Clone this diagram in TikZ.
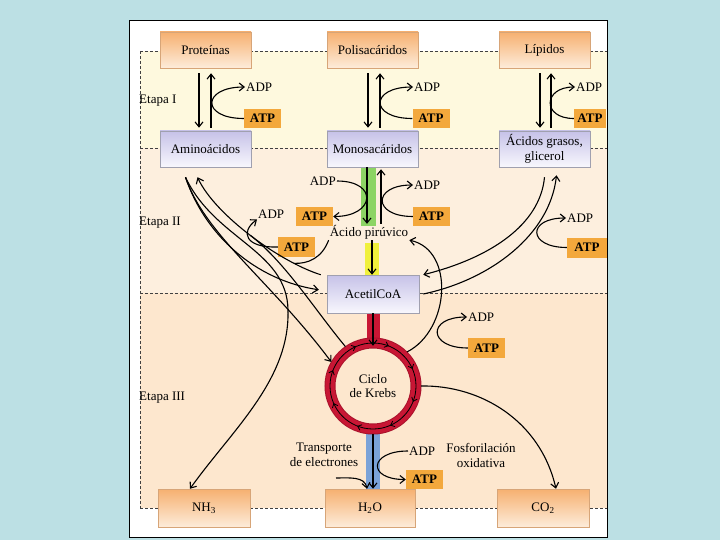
\documentclass[tikz,border=0pt]{standalone}
\usepackage{fontspec}
\setmainfont{Liberation Serif}
\usetikzlibrary{arrows.meta,decorations.markings}
\definecolor{bgblue}{RGB}{188,224,228}
\definecolor{bandA}{RGB}{254,249,222}
\definecolor{bandB}{RGB}{253,239,222}
\definecolor{bandC}{RGB}{253,231,206}
\definecolor{otop}{RGB}{246,176,112}
\definecolor{obot}{RGB}{253,236,218}
\definecolor{oline}{RGB}{215,165,120}
\definecolor{ltop}{RGB}{198,194,232}
\definecolor{lbot}{RGB}{248,247,253}
\definecolor{lline}{RGB}{160,160,175}
\definecolor{atpfill}{RGB}{243,168,60}
\definecolor{greenbar}{RGB}{140,212,100}
\definecolor{yellowbar}{RGB}{240,240,60}
\definecolor{krebsred}{RGB}{200,22,52}
\definecolor{bluebar}{RGB}{122,162,216}
\tikzset{
  obox/.style={draw=oline, line width=0.5pt, top color=otop, bottom color=obot, minimum width=91pt, minimum height=36pt, inner sep=1pt, align=center},
  lbox/.style={draw=lline, line width=0.5pt, top color=ltop, bottom color=lbot, minimum width=91pt, minimum height=36pt, inner sep=1pt, align=center},
  atpbox/.style={fill=atpfill, minimum width=37pt, minimum height=19pt, inner sep=0pt, font=\fontsize{13}{14}\selectfont\bfseries},
  lbl/.style={inner sep=1pt},
  arr/.style={line width=1.1pt, -{Straight Barb[length=5pt,width=8pt]}},
  ln/.style={line width=1.1pt},
  sepline/.style={dash pattern=on 3pt off 2pt, line width=0.6pt, draw=black!75},
}
\begin{document}
\begin{tikzpicture}[x=1pt,y=-1pt,font=\fontsize{13}{14}\selectfont]
\useasboundingbox (0,0) rectangle (720,540);
\fill[bgblue] (0,0) rectangle (720,540);
\draw[fill=white, line width=1pt] (129,21) rectangle (607,537);
% bands
\fill[bandA] (140,51) rectangle (607,148);
\fill[bandB] (140,148) rectangle (607,293);
\fill[bandC] (140,293) rectangle (607,508);
\draw[sepline] (140,51) -- (607,51);
\draw[sepline] (140,148) -- (607,148);
\draw[sepline] (140,293) -- (607,293);
\draw[sepline] (140,508) -- (607,508);
\draw[sepline] (140,51) -- (140,508);
% stage labels
\node[lbl, anchor=west] (e1) at (138,101) {Etapa I};
\node[lbl, anchor=west] (e2) at (138,223) {Etapa II};
\node[lbl, anchor=west] (e3) at (138,398) {Etapa III};
% bars
\fill[greenbar] (361,167) rectangle (376,226);
\fill[yellowbar] (365,243) rectangle (379,275);
\fill[krebsred] (367,312) rectangle (380,345);
\fill[bluebar] (366,430) rectangle (380,489);
% main boxes
\node[obox] (prot) at (205.5,50) {Proteínas};
\node[obox] (polis) at (372.5,50) {Polisacáridos};
\node[obox] (lip) at (544.5,50) {Lípidos};
\node[lbox] (amino) at (205.5,149) {Aminoácidos};
\node[lbox] (mono) at (372.5,149) {Monosacáridos};
\node[lbox, font=\fontsize{13}{15}\selectfont] (acid) at (544.5,149) {Ácidos grasos,\\glicerol};
\node[lbox, minimum width=92pt, minimum height=38pt] (acetil) at (373,294) {AcetilCoA};
\node[obox, minimum width=92pt, minimum height=38pt] (nh3) at (204,508) {NH\textsubscript{3}};
\node[obox, minimum width=90pt, minimum height=38pt] (h2o) at (370,508) {H\textsubscript{2}O};
\node[obox, minimum width=92pt, minimum height=38pt] (co2) at (543,508) {CO\textsubscript{2}};
% ATP / ADP labels
\node[atpbox] (atpA) at (262.5,118.5) {ATP};
\node[lbl, anchor=west] (adpA) at (245,87) {ADP};
\node[atpbox] (atpB) at (431,118.5) {ATP};
\node[lbl, anchor=west] (adpB) at (413,87) {ADP};
\node[atpbox, minimum width=32pt] (atpC) at (590,118.5) {ATP};
\node[lbl, anchor=west] (adpC) at (575,87) {ADP};
\node[lbl] (piru) at (369,232) {Ácido pirúvico};
\node[lbl, anchor=east] (adpD) at (337,181) {ADP};
\node[atpbox] (atpD) at (314.5,216.5) {ATP};
\node[lbl, anchor=west] (adpE) at (413,185) {ADP};
\node[atpbox] (atpE) at (431.5,216.5) {ATP};
\node[lbl, anchor=west] (adpF) at (257,214) {ADP};
\node[atpbox, minimum height=20pt] (atpF) at (296.5,247) {ATP};
\node[lbl, anchor=west] (adpG) at (566,218) {ADP};
\node[atpbox, minimum width=40pt, minimum height=20pt] (atpG) at (587,247.5) {ATP};
\node[lbl, anchor=west] (adpH) at (467,317) {ADP};
\node[atpbox, minimum height=20pt] (atpH) at (486.5,348) {ATP};
\node[lbl, anchor=west] (adpI) at (408,451) {ADP};
\node[atpbox] (atpI) at (424.5,479.5) {ATP};
\node[lbl, align=center, font=\fontsize{13}{15}\selectfont] (transp) at (324,455) {Transporte\\de electrones};
\node[lbl, align=center, font=\fontsize{13}{15}\selectfont] (fosfo) at (481,455) {Fosforilación\\oxidativa};
% Krebs ring
\node[circle, minimum size=96pt, inner sep=0pt, align=center, font=\fontsize{13}{14}\selectfont] (krebs) at (373,386) {Ciclo\\de Krebs};
\draw[krebsred!85!black, line width=11pt] (krebs.center) circle[radius=43pt];
\draw[krebsred, line width=9pt] (krebs.center) circle[radius=43pt];
\draw[line width=0.8pt, postaction=decorate, decoration={markings, mark=between positions 0.06 and 1 step 0.125 with {\arrow{Straight Barb[length=3.5pt,width=6pt]}}}] ([shift={(90:43pt)}]krebs.center) arc[start angle=90, end angle=-270, radius=43pt];
% stage I arrows
\foreach \t/\b/\a/\d/\dx/\ux/\lo in {prot/amino/atpA/adpA/-6.5/5.5/3.5, polis/mono/atpB/adpB/-4.5/7.5/3.5, lip/acid/atpC/adpC/-4.5/6.5/2.6} {
  \draw[arr, shorten <=5pt, shorten >=3pt] ([xshift=\dx pt]\t.south) -- ([xshift=\dx pt]\b.north);
  \draw[arr, shorten <=3pt, shorten >=5pt] ([xshift=\ux pt]\b.north) -- ([xshift=\ux pt]\t.south);
  \draw[arr] (\a.west) to[out=180, in=180, looseness=\lo] (\d.west);
}
% stage II central
\coordinate (gx) at (367,0);
\coordinate (ux) at (381,0);
\coordinate (yx) at (372,0);
\draw[arr] (mono.south -| gx) -- (piru.north -| gx);
\draw[arr, shorten >=2pt] (piru.north -| ux) -- (mono.south -| ux);
\draw[arr] (adpD.east) to[out=0, in=0, looseness=3] (atpD.east);
\draw[arr] (atpE.west) to[out=180, in=180, looseness=3.3] (adpE.west);
\draw[arr] (atpF.west) .. controls (245,248) and (240,232) .. (adpF.south west);
\draw[arr] (atpG.west) to[out=180, in=180, looseness=3.4] (adpG.west);
\draw[arr] (piru.south -| yx) -- (acetil.north -| yx);
% stage III central
\draw[arr] (acetil.south) -- ([yshift=-8pt]krebs.north);
\draw[arr] (krebs.south) -- (h2o.north -| krebs.south);
\coordinate (tin) at (336,478);
\coordinate (hin) at ([xshift=-3pt]h2o.north);
\draw[arr] (tin) to[out=0, in=100] (hin);
\draw[arr] (adpI.west) to[out=180, in=180, looseness=3.5] (atpI.west);
\draw[arr] (atpH.west) to[out=180, in=180, looseness=3.3] (adpH.west);
\draw[arr] (krebs.east) .. controls (480,385) and (540,420) .. ([xshift=13pt]co2.north);
\draw[arr] (krebs.45) .. controls (450,330) and (455,250) .. (piru.south east);
% left bundle
\coordinate (aS) at ([xshift=-20pt, yshift=-10pt]amino.south);
\coordinate (aE) at ([xshift=-8pt, yshift=-10pt]amino.south);
\draw[arr, shorten >=8pt] (aS) .. controls (205,235) and (255,280) .. ([yshift=3pt]acetil.west);
\draw[arr] ([xshift=-6pt]acetil.north west) .. controls (280,262) and (215,215) .. (aE) coordinate[pos=0.2] (qa) coordinate[pos=0.5] (qb);
\draw[arr] (aS) .. controls (205,235) and (270,280) .. (krebs.150);
\draw[ln] (krebs.125) .. controls (315,310) and (285,262) .. (qb);
\draw[arr] (aS) .. controls (215,240) and (287,250) .. (288,310) .. controls (290,380) and (232,430) .. ([xshift=-14pt]nh3.north);
\draw[ln] (piru.south west) .. controls (322,258) and (308,264) .. (qa);
% right bundle
\coordinate (dS) at ([yshift=-10pt]acid.south);
\coordinate (dE) at ([xshift=12pt, yshift=-8pt]acid.south);
\draw[arr] (dS) .. controls (540,225) and (490,258) .. ([xshift=4pt]acetil.north east);
\draw[arr] ([xshift=4pt]acetil.east) .. controls (490,280) and (550,235) .. (dE);
\end{tikzpicture}
\end{document}
